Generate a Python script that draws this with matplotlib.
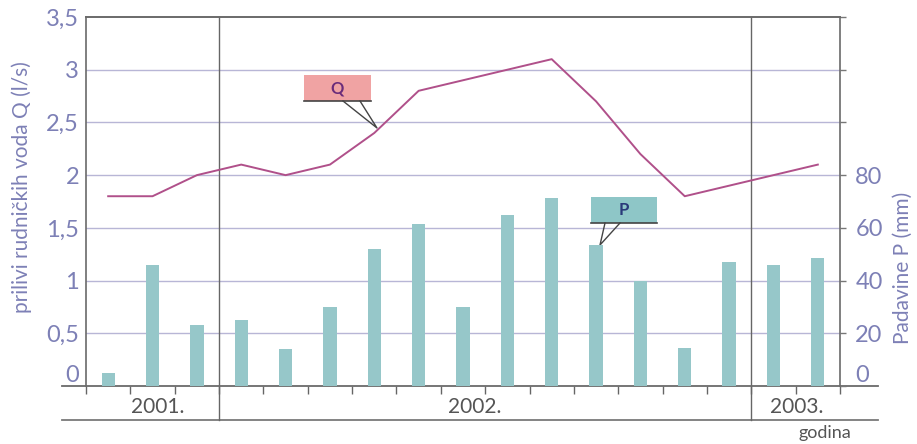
import matplotlib
matplotlib.use("Agg")
import matplotlib.pyplot as plt
from matplotlib.patches import Rectangle
from matplotlib.lines import Line2D
from matplotlib.transforms import blended_transform_factory

plt.rcParams['font.family'] = ['Lato', 'DejaVu Sans']

# ---- data ----
months = ['X', 'XI', 'XII', 'I', 'II', 'III', 'IV', 'V', 'VI', 'VII', 'VIII',
          'IX', 'X', 'XI', 'XII', 'I', 'II']
precip_mm = [5, 46, 23, 25, 14, 30, 52, 61.5, 30, 65, 71.5, 53.5, 40, 14.5, 47, 46, 48.5]
inflow_q = [1.8, 1.8, 2.0, 2.1, 2.0, 2.1, 2.4, 2.8, 2.9, 3.0, 3.1, 2.7, 2.2, 1.8, 1.9, 2.0, 2.1]
years = ['2001.', '2002.', '2003.']
year_months = [3, 12, 2]
left_ticks = [0, 0.5, 1, 1.5, 2, 2.5, 3, 3.5]
left_ticklabels = ['0', '0,5', '1', '1,5', '2', '2,5', '3', '3,5']
right_ticks = [0, 20, 40, 60, 80, 100, 120, 140]
right_ticklabels = ['0', '20', '40', '60', '80', '', '', '']

BAR = '#96c7c9'
LINE = '#b0508a'
GRID = '#b8b6d6'
LAB = '#7d80b6'
DARK = '#555555'

W, H = 917, 444
fig = plt.figure(figsize=(W / 100, H / 100), dpi=100)
L, R, T, B = 86, 840, 17, 386
ax = fig.add_axes([L / W, 1 - B / H, (R - L) / W, (B - T) / H])
n = len(months)
ax.set_xlim(0, n)
ax.set_ylim(0, 3.5)
ax2 = ax.twinx()
ax2.set_ylim(0, 3.5 * 40)

xs = [i + 0.5 for i in range(n)]
ax2.bar(xs, precip_mm, width=0.3, color=BAR, zorder=2)
ax2.plot(xs, [q * 40 for q in inflow_q], color=LINE, lw=1.4, zorder=3)

# grid
for t in left_ticks[1:-1]:
    ax.axhline(t, color=GRID, lw=1.0, zorder=0)

ax.set_yticks(left_ticks)
ax.set_yticklabels(left_ticklabels)
ax.tick_params(axis='y', length=0, pad=5, labelsize=17, labelcolor=LAB)
ax2.set_yticks(right_ticks)
ax2.set_yticklabels(right_ticklabels)
ax2.tick_params(axis='y', length=4, width=1, color='#777777', pad=7,
                labelsize=17, labelcolor=LAB)
for a in (ax, ax2):
    for lab in a.get_yticklabels():
        if lab.get_text() == '0':
            lab.set_va('bottom')

ax.set_xticks(range(n + 1))
ax.set_xticklabels([])
ax.tick_params(axis='x', length=6, width=1, color='#666666', direction='out')

for a in (ax, ax2):
    for s in ('left', 'right', 'top'):
        a.spines[s].set_color('#6a6a6a')
        a.spines[s].set_linewidth(1.2)
    a.spines['bottom'].set_visible(False)
ax.spines['right'].set_visible(False)
ax2.spines['left'].set_visible(False)

fig.text(22 / W, 1 - 187 / H, 'prilivi rudničkih voda Q (l/s)', rotation=90,
         ha='center', va='center', color=LAB, fontsize=15)
fig.text(903 / W, 1 - 268 / H, 'Padavine P (mm)', rotation=90,
         ha='center', va='center', color=LAB, fontsize=15)

tr = ax.transAxes
ax.add_line(Line2D([-0.032, 1.05], [0, 0], transform=tr, color='#6a6a6a',
                   lw=1.3, clip_on=False, zorder=5))
ax.add_line(Line2D([-0.032, 1.05], [-0.092, -0.092], transform=tr,
                   color='#7a7a7a', lw=1.3, clip_on=False))
bt = blended_transform_factory(ax.transData, ax.transAxes)
pos = 0
label_x = [1.62, 8.77, 16.03]
for k, (yr, nm) in enumerate(zip(years, year_months)):
    if pos > 0:
        ax.add_line(Line2D([pos, pos], [-0.092, 1], transform=bt,
                           color='#666666', lw=1.0, clip_on=False, zorder=4))
    ax.text(label_x[k], -0.057, yr, transform=bt, ha='center', va='center',
            fontsize=15, color=DARK)
    pos += nm
ax.text(16.65, -0.127, 'godina', transform=bt, ha='center', va='center',
        fontsize=13, color=DARK)


def px(x, y):
    return ((x - L) / (R - L) * n, (B - y) / (B - T) * 3.5)


def callout(box, tip, base, color, label, tcol):
    x0, y0 = px(box[0], box[3])
    x1, y1 = px(box[2], box[1])
    ax.add_patch(Rectangle((x0, y0), x1 - x0, y1 - y0, facecolor=color,
                           edgecolor='none', zorder=6))
    ax.add_line(Line2D([x0, x1], [y0, y0], color='#444444', lw=1.2, zorder=7))
    ax.add_line(Line2D([px(base[0], 0)[0], px(tip[0], 0)[0], px(base[1], 0)[0]],
                       [y0, px(0, tip[1])[1], y0], color='#444444', lw=1.0, zorder=7))
    ax.text((x0 + x1) / 2, (y0 + y1) / 2, label, ha='center', va='center',
            fontsize=12, color=tcol, fontweight='bold', zorder=8)


callout((304, 75, 371, 101), (377, 128), (343, 360), '#f0a3a3', 'Q', '#6a2c7a')
callout((591, 197, 657, 223), (600, 245), (605, 620), '#8ec6c7', 'P', '#2a3a7a')

fig.savefig('out.png', dpi=100)
